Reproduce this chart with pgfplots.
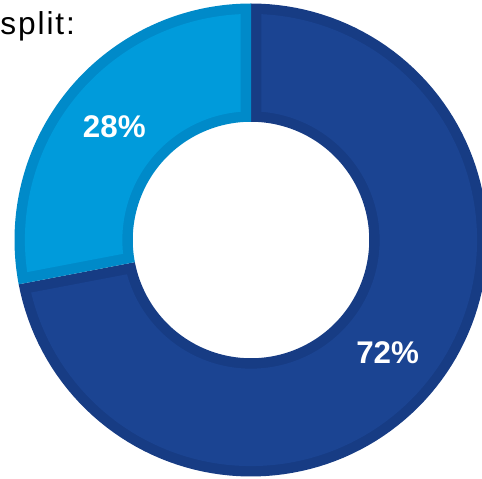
\documentclass[border=0pt]{standalone}
\usepackage{fontspec}
\setmainfont{Liberation Sans}
\newfontfamily\splitfont[LetterSpace=6]{Liberation Sans}
\usepackage{pgfplots}
\pgfplotsset{compat=1.18}
\usepgfplotslibrary{fillbetween}
\definecolor{darkfill}{RGB}{27,68,146}
\definecolor{darkedge}{RGB}{23,60,132}
\definecolor{lightfill}{RGB}{0,155,219}
\definecolor{lightedge}{RGB}{0,138,201}
% data (percent)
\def\valA{72}
\def\valB{28}
\pgfmathsetmacro{\thB}{90-3.6*\valA}      % boundary angle
\pgfmathsetmacro{\thE}{\thB+360}           % end of light slice
\pgfmathsetmacro{\dO}{asin(0.044/0.956)}
\pgfmathsetmacro{\dI}{asin(0.044/0.544)}
\pgfmathsetmacro{\mA}{(90+\thB)/2}
\pgfmathsetmacro{\mB}{(90+\thE)/2}
\begin{document}
\begin{tikzpicture}
\begin{axis}[
  scale only axis, width=289.2pt, height=286.8pt,
  xmin=-1.0613, xmax=0.9767, ymin=-1.0063, ymax=1.0148,
  hide axis, clip=true,
  samples=120,
]
% full slices (edge colour)
\addplot[draw=none, name path=oA, domain=\thB:90] ({cos(x)},{sin(x)});
\addplot[draw=none, name path=iA, domain=\thB:90] ({0.5*cos(x)},{0.5*sin(x)});
\addplot[fill=darkedge, draw=none] fill between[of=oA and iA];
\addplot[draw=none, name path=oB, domain=90:\thE] ({cos(x)},{sin(x)});
\addplot[draw=none, name path=iB, domain=90:\thE] ({0.5*cos(x)},{0.5*sin(x)});
\addplot[fill=lightedge, draw=none] fill between[of=oB and iB];
% inset slices (fill colour)
\addplot[draw=none, name path=oA2, domain={\thB+\dO}:{90-\dO}] ({0.956*cos(x)},{0.956*sin(x)});
\addplot[draw=none, name path=iA2, domain={\thB+\dI}:{90-\dI}] ({0.544*cos(x)},{0.544*sin(x)});
\addplot[fill=darkfill, draw=none] fill between[of=oA2 and iA2];
\addplot[draw=none, name path=oB2, domain={90+\dO}:{\thE-\dO}] ({0.956*cos(x)},{0.956*sin(x)});
\addplot[draw=none, name path=iB2, domain={90+\dI}:{\thE-\dI}] ({0.544*cos(x)},{0.544*sin(x)});
\addplot[fill=lightfill, draw=none] fill between[of=oB2 and iB2];
% labels
\node[text=white, font=\fontsize{18.8}{22}\selectfont\bfseries] at (axis cs:{0.75*cos(\mA)},{0.75*sin(\mA)}) {72\%};
\node[text=white, font=\fontsize{18.8}{22}\selectfont\bfseries] at (axis cs:{0.75*cos(\mB)},{0.75*sin(\mB)}) {28\%};
\node[anchor=base west, inner sep=0pt, font=\fontsize{19}{23}\splitfont] at (axis cs:-1.0613,0.870) {split:};
\end{axis}
\pgfresetboundingbox
\path[use as bounding box] (current axis.south west) rectangle (current axis.north east);
\end{tikzpicture}
\end{document}
